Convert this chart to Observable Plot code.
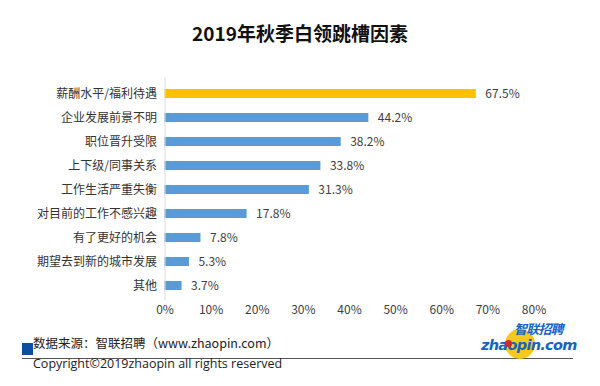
<!DOCTYPE html>
<html><head><meta charset="utf-8">
<script src="https://cdn.jsdelivr.net/npm/d3@7"></script>
<script src="https://cdn.jsdelivr.net/npm/@observablehq/plot@0.6"></script>
<style>
body{margin:0;background:#fff;font-family:"Noto Sans CJK SC","Noto Sans",sans-serif;}
#wrap{position:relative;width:600px;height:386px;overflow:hidden;}
#title{height:62px;line-height:66px;text-align:center;font-size:19px;font-weight:bold;color:#111;}
.abs{position:absolute;white-space:nowrap;}
</style></head>
<body><div id="wrap">
<div id="title">2019年秋季白领跳槽因素</div>
<div id="chart"></div>
<div class="abs" style="left:22px;top:343px;width:11px;height:12px;background:#0b4ea2"></div>
<div class="abs" style="left:33px;top:334px;font-size:12.5px;color:#222;line-height:18px">数据来源：智联招聘（www.zhaopin.com）</div>
<div class="abs" style="left:22px;top:358px;width:551px;height:1px;background:#555"></div>
<div class="abs" style="left:33px;top:355px;font-size:12.5px;color:#222;line-height:17px;font-family:'Open Sans','Noto Sans',sans-serif">Copyright©2019zhaopin all rights reserved</div>
<div class="abs" style="left:505px;top:329px;width:30px;height:30px;border-radius:50%;background:#f7c91c"></div>
<div class="abs" style="left:514px;top:322px;font-size:13px;font-weight:bold;font-style:italic;color:#1565c0;line-height:13px;letter-spacing:-0.8px">智联招聘</div>
<div class="abs" style="left:481px;top:339px;font-size:14.5px;font-weight:bold;font-style:italic;color:#1565c0;line-height:13px;font-family:'DejaVu Sans',sans-serif;letter-spacing:-0.7px">zhaopin.com</div>
<div class="abs" style="left:505px;top:340px;width:7px;height:7px;border-radius:50%;background:#d6282b"></div>
</div>
<script>
const categories = ["薪酬水平/福利待遇","企业发展前景不明","职位晋升受限","上下级/同事关系","工作生活严重失衡","对目前的工作不感兴趣","有了更好的机会","期望去到新的城市发展","其他"];
const values = [67.5, 44.2, 38.2, 33.8, 31.3, 17.8, 7.8, 5.3, 3.7];
const highlight = [true, false, false, false, false, false, false, false, false];
const xTicks = [0, 10, 20, 30, 40, 50, 60, 70, 80];

const data = categories.map((c, i) => ({cat: c, v: values[i], hi: highlight[i]}));

const plot = Plot.plot({
  width: 600,
  height: 262,
  marginLeft: 164.5,
  marginRight: 66.5,
  marginTop: 15.6,
  marginBottom: 23.6,
  style: {fontFamily: "'Noto Sans CJK SC','Noto Sans',sans-serif", fontSize: "12px", color: "#404040", background: "transparent"},
  x: {domain: [0, 80], ticks: xTicks, tickFormat: d => d + "%", tickSize: 0, tickPadding: 5, label: null},
  y: {domain: categories, paddingInner: 0.64, paddingOuter: 0.32, tickSize: 0, tickPadding: 8, label: null},
  marks: [
    Plot.barX(data, {y: "cat", x: "v", fill: d => d.hi ? "#FFC000" : "#5B9BD5"}),
    Plot.ruleX([0], {stroke: "#d9d9d9"}),
    Plot.text(data, {y: "cat", x: "v", text: d => d.v.toFixed(1) + "%", dx: 9, textAnchor: "start", fill: "#404040", fontSize: 12}),
    Plot.axisX({ticks: xTicks, tickFormat: d => d + "%", tickSize: 0, tickPadding: 5, fill: "#404040", fontSize: 12}),
    Plot.axisY({tickSize: 0, tickPadding: 8, fill: "#333", fontSize: 12})
  ]
});
document.getElementById("chart").appendChild(plot);
</script>
</body></html>
